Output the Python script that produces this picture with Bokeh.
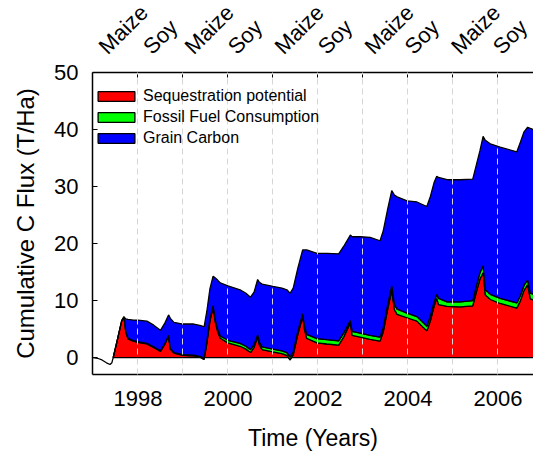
import numpy as np
from bokeh.plotting import figure
from bokeh.layouts import column
from bokeh.models import (Range1d, FixedTicker, LinearAxis, Legend, LegendItem,
                          LabelSet, ColumnDataSource)
from bokeh.embed import file_html
from bokeh.resources import INLINE
from bokeh.core.properties import value

# ---------------- data ----------------
years = [1997.45, 1997.55, 1997.64, 1997.69, 1997.73, 1997.78, 1997.90, 1998.00,
         1998.20, 1998.35, 1998.50, 1998.60, 1998.68, 1998.72, 1998.80, 1999.00,
         1999.24, 1999.40, 1999.47, 1999.53, 1999.60, 1999.67, 1999.72, 1999.77,
         1999.83, 2000.00, 2000.27, 2000.40, 2000.50, 2000.58, 2000.66, 2000.70,
         2000.76, 2001.00, 2001.20, 2001.31, 2001.38, 2001.45, 2001.55, 2001.66,
         2001.70, 2001.75, 2001.98, 2002.20, 2002.46, 2002.57, 2002.72, 2002.76,
         2002.94, 2003.16, 2003.38, 2003.45, 2003.55, 2003.64, 2003.70, 2003.76,
         2003.98, 2004.20, 2004.42, 2004.50, 2004.58, 2004.64, 2004.68, 2004.87,
         2005.16, 2005.44, 2005.52, 2005.60, 2005.67, 2005.72, 2005.83, 2006.05,
         2006.42, 2006.50, 2006.58, 2006.66, 2006.72, 2006.85]

sequestration = [0.0, 3.4, 6.5, 7.1, 4.5, 3.3, 2.9, 2.7,
                 2.4, 1.8, 1.1, 2.4, 3.8, 1.5, 0.8, 0.4,
                 0.3, 0.0, -0.3, 2.5, 6.5, 8.8, 6.2, 4.6,
                 3.4, 2.6, 2.0, 1.5, 0.9, 1.8, 3.6, 2.2,
                 1.4, 1.0, 0.7, 0.4, -0.4, 0.5, 4.0, 7.2,
                 5.0, 3.4, 2.6, 2.4, 2.2, 3.6, 6.1, 3.9,
                 3.6, 3.2, 2.9, 4.5, 8.5, 11.8, 8.4, 7.6,
                 7.0, 6.4, 4.7, 6.5, 9.0, 10.4, 9.3, 9.0,
                 8.9, 9.1, 11.5, 13.8, 14.9, 11.0, 10.2, 9.5,
                 8.7, 10.0, 11.8, 12.8, 10.3, 10.0]

fossil_fuel = [0.0, 0.0, 0.0, 0.05, 0.1, 0.1, 0.1, 0.1,
               0.1, 0.1, 0.1, 0.1, 0.1, 0.1, 0.1, 0.15,
               0.15, 0.2, 0.2, 0.3, 0.3, 0.3, 0.35, 0.4,
               0.4, 0.45, 0.5, 0.5, 0.5, 0.5, 0.4, 0.5,
               0.5, 0.5, 0.5, 0.5, 0.5, 0.5, 0.5, 0.5,
               0.6, 0.7, 0.75, 0.75, 0.75, 0.7, 0.4, 0.7,
               0.7, 0.7, 0.7, 0.7, 0.8, 0.8, 0.9, 0.9,
               0.8, 0.8, 0.8, 0.8, 0.7, 0.7, 1.1, 0.8,
               0.9, 0.9, 1.0, 1.1, 1.2, 0.9, 0.9, 0.9,
               0.9, 0.9, 0.9, 0.8, 1.0, 1.0]

grain_carbon = [0.0, 0.0, 0.0, 0.0, 2.2, 3.3, 3.6, 3.8,
                3.9, 3.8, 3.6, 3.6, 3.6, 5.3, 5.3, 5.35,
                5.45, 5.4, 5.5, 5.3, 5.3, 5.2, 7.4, 8.6,
                9.3, 9.55, 9.4, 9.3, 9.2, 9.2, 9.7, 10.5,
                11.0, 11.0, 11.0, 11.0, 11.2, 11.2, 11.1, 11.2,
                13.3, 14.8, 14.95, 15.15, 15.25, 15.2, 15.0, 16.6,
                16.9, 17.2, 16.9, 17.0, 16.8, 16.7, 19.2, 19.7,
                19.7, 20.1, 21.0, 21.0, 21.0, 20.7, 21.2, 21.4,
                21.4, 21.3, 21.3, 21.4, 22.7, 26.2, 26.4, 26.5,
                26.5, 26.9, 26.9, 26.8, 28.9, 28.8]

# net flux before the first crop is planted
pre_years = [1997.00, 1997.10, 1997.20, 1997.30, 1997.38, 1997.42, 1997.45]
pre_net = [0.0, -0.1, -0.4, -0.9, -1.2, -0.9, 0.0]

series_names = ["Sequestration potential", "Fossil Fuel Consumption", "Grain Carbon"]
series_colors = ["#ff0000", "#00ff00", "#0000ff"]

crop_labels = ["Maize", "Soy", "Maize", "Soy", "Maize", "Soy", "Maize", "Soy", "Maize", "Soy"]
crop_years = [1997.33, 1998.32, 1999.24, 2000.20, 2001.24, 2002.20, 2003.24, 2004.13, 2005.16, 2006.09]

year_labels = [1998, 2000, 2002, 2004, 2006]
odd_years = [1999, 2001, 2003, 2005]
all_years = list(range(1998, 2008))
y_ticks = [0, 10, 20, 30, 40, 50]

FONT = "Liberation Sans"

W = 533
LEFT = 92            # frame left edge in pixels
PX_PER_YEAR = 45.0
TOP_H = 59           # strip that carries the crop names
MAIN_H = 453 - TOP_H

x0 = 1996.99
x1 = x0 + (W - LEFT) / PX_PER_YEAR
x_range = Range1d(x0, x1)

# ---------------- crop-name strip ----------------
ptop = figure(width=W, height=TOP_H, output_backend="svg", toolbar_location=None,
              x_range=x_range, y_range=Range1d(0, TOP_H),
              x_axis_type=None, y_axis_type=None,
              min_border_left=LEFT, min_border_right=0, min_border_top=0, min_border_bottom=0)
ptop.outline_line_color = None
ptop.xgrid.visible = False
ptop.ygrid.visible = False
crop_src = ColumnDataSource(dict(x=crop_years, y=[4] * len(crop_years), text=crop_labels))
ptop.add_layout(LabelSet(x="x", y="y", text="text", source=crop_src,
                         angle=45, angle_units="deg",
                         text_align="left", text_baseline="alphabetic",
                         text_font=value(FONT), text_font_size=value("22px"),
                         text_color="black"))

# ---------------- main chart ----------------
p = figure(width=W, height=MAIN_H, output_backend="svg", toolbar_location=None,
           x_range=x_range, y_range=Range1d(-2.95, 50),
           min_border_left=LEFT, min_border_right=0,
           min_border_top=72 - TOP_H, min_border_bottom=MAIN_H - (72 - TOP_H) - 303)
p.outline_line_color = None

t = np.array(years)
s = np.array(sequestration)
f = np.array(fossil_fuel)
g = np.array(grain_carbon)
zero = np.zeros_like(t)
bounds = [zero, s, s + f, s + f + g]

renderers = []
for i in range(3):
    lo, hi = bounds[i], bounds[i + 1]
    r = p.patch(np.concatenate([t, t[::-1]]), np.concatenate([hi, lo[::-1]]),
                fill_color=series_colors[i], line_color="black", line_width=1.3)
    renderers.append(r)

p.line(pre_years, pre_net, line_color="black", line_width=1.3)

# grid (dashed, drawn on top of the areas)
p.ygrid.visible = False
p.xgrid.ticker = FixedTicker(ticks=all_years)
p.xgrid.grid_line_color = "#d6d6d6"
p.xgrid.grid_line_dash = "6 4"
p.xgrid.grid_line_width = 1
p.xgrid.level = "overlay"

# bottom axis
xa = p.xaxis[0]
xa.ticker = FixedTicker(ticks=year_labels, minor_ticks=odd_years)
xa.major_tick_line_color = None
xa.minor_tick_in = 5
xa.minor_tick_out = 0
xa.minor_tick_line_color = "black"
xa.axis_line_color = "black"
xa.axis_line_width = 1.5
xa.major_label_text_font = FONT
xa.major_label_text_font_size = "22px"
xa.major_label_text_color = "black"
xa.major_label_standoff = 10
xa.axis_label = "Time (Years)"
xa.axis_label_text_font = FONT
xa.axis_label_text_font_size = "23px"
xa.axis_label_text_font_style = "normal"
xa.axis_label_text_color = "black"
xa.axis_label_standoff = 16

# left axis
ya = p.yaxis[0]
ya.ticker = FixedTicker(ticks=y_ticks)
ya.major_tick_in = 5
ya.major_tick_out = 0
ya.minor_tick_line_color = None
ya.axis_line_color = "black"
ya.axis_line_width = 1.5
ya.major_tick_line_color = "black"
ya.major_label_text_font = FONT
ya.major_label_text_font_size = "22px"
ya.major_label_text_color = "black"
ya.major_label_standoff = 14
ya.axis_label = "Cumulative C Flux (T/Ha)"
ya.axis_label_text_font = FONT
ya.axis_label_text_font_size = "24px"
ya.axis_label_text_font_style = "normal"
ya.axis_label_text_color = "black"
ya.axis_label_standoff = 12

# top axis: yearly ticks, no numbers
top = LinearAxis(ticker=FixedTicker(ticks=all_years),
                 major_label_overrides={yr: "" for yr in all_years},
                 major_tick_in=5, major_tick_out=0, major_label_standoff=0,
                 minor_tick_line_color=None,
                 axis_line_color="black", axis_line_width=1.5,
                 major_tick_line_color="black",
                 major_label_text_font_size="1px")
p.add_layout(top, "above")

# legend
legend = Legend(items=[LegendItem(label=series_names[i], renderers=[renderers[i]]) for i in range(3)],
                location=(1, 226), orientation="vertical",
                glyph_width=46, glyph_height=12, label_standoff=4,
                label_height=21, spacing=0, padding=0, margin=0,
                label_text_font=FONT, label_text_font_size="16px",
                label_text_color="black",
                border_line_color=None, background_fill_alpha=0)
p.add_layout(legend, "center")

layout = column(ptop, p, spacing=0)
open("out.html", "w").write(file_html(layout, INLINE))
